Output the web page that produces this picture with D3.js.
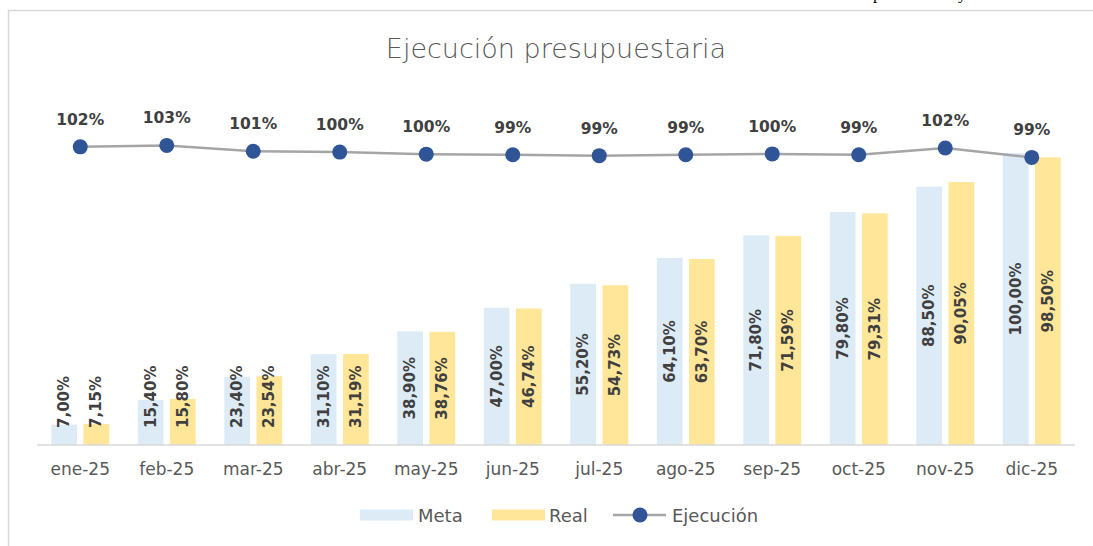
<!DOCTYPE html>
<html>
<head>
<meta charset="utf-8">
<script src="https://cdn.jsdelivr.net/npm/d3@7"></script>
<style>
  body { margin: 0; background: #fff; }
  svg { display: block; font-family: "DejaVu Sans", sans-serif; }
</style>
</head>
<body>
<script>
// datos
var meses = ["ene-25","feb-25","mar-25","abr-25","may-25","jun-25","jul-25","ago-25","sep-25","oct-25","nov-25","dic-25"];
var meta = [7.00, 15.40, 23.40, 31.10, 38.90, 47.00, 55.20, 64.10, 71.80, 79.80, 88.50, 100.00];
var real = [7.15, 15.80, 23.54, 31.19, 38.76, 46.74, 54.73, 63.70, 71.59, 79.31, 90.05, 98.50];
var ejecucion = [102.1, 102.6, 100.6, 100.3, 99.6, 99.4, 99.1, 99.4, 99.7, 99.4, 101.7, 98.5];
var series = ["Meta", "Real"];

var w = 1093, h = 546;
var colores = {Meta: "#DDEBF7", Real: "#FFE699"};

var svg = d3.select("body").append("svg")
    .attr("width", w)
    .attr("height", h)

// marco del grafico
svg.append("rect")
  .attr("x", 8.5).attr("y", 10.5)
  .attr("width", 1100).attr("height", 545)
  .attr("fill", "none")
  .attr("stroke", "#D9D9D9")
  .attr("stroke-width", 1.5)

// restos del texto de la pagina, cortados arriba
svg.append("text").attr("x", 873).attr("y", -1)
  .style("font-family", "Liberation Serif").style("font-size", "17px").text("p")
svg.append("text").attr("x", 958).attr("y", -1)
  .style("font-family", "Liberation Serif").style("font-size", "17px").text("y")

svg.append("text")
  .attr("x", 556).attr("y", 58)
  .attr("text-anchor", "middle")
  .attr("fill", "#595959")
  .style("font-size", "27px")
  .style("font-weight", "200")
  .text("Ejecución presupuestaria")

var x0 = d3.scaleBand().domain(meses).range([37, 1075]).paddingInner(0.33).paddingOuter(0.165);
var x1 = d3.scaleBand().domain(series).range([0, x0.bandwidth()]).paddingInner(0.2);
var y = d3.scaleLinear().domain([0, 100]).range([445, 153]);

var filas = meses.map(function(m, i) {
  return {mes: m, valores: [{s: "Meta", v: meta[i]}, {s: "Real", v: real[i]}]};
});

var grupos = svg.selectAll("g.mes").data(filas).enter().append("g")
  .attr("class", "mes")
  .attr("transform", function(d) { return "translate(" + x0(d.mes) + ",0)"; })

grupos.selectAll("rect").data(function(d) { return d.valores; }).enter().append("rect")
  .attr("x", function(d) { return x1(d.s); })
  .attr("width", x1.bandwidth())
  .attr("y", function(d) { return y(d.v); })
  .attr("height", function(d) { return y(0) - y(d.v); })
  .attr("fill", function(d) { return colores[d.s]; })

// etiquetas verticales, centradas en la barra pero sin bajar de 428
grupos.selectAll("text.lbl").data(function(d) { return d.valores; }).enter().append("text")
  .attr("class", "lbl")
  .attr("fill", "#404040")
  .style("font-size", "15px")
  .style("font-weight", "bold")
  .attr("dominant-baseline", "central")
  .text(function(d) { return d.v.toFixed(2).replace(".", ",") + "%"; })
  .each(function(d) {
    var len = this.getComputedTextLength();
    var cy = (y(d.v) + y(0)) / 2;
    var bottom = Math.min(cy + len / 2, 428);
    var cx = x1(d.s) + x1.bandwidth() / 2;
    d3.select(this).attr("transform", "translate(" + cx + "," + bottom + ") rotate(-90)");
  })

// eje x
svg.append("line")
  .attr("x1", 37).attr("x2", 1075)
  .attr("y1", 445).attr("y2", 445)
  .attr("stroke", "#D9D9D9").attr("stroke-width", 1.5)

svg.selectAll("text.mes").data(meses).enter().append("text")
  .attr("class", "mes")
  .attr("x", function(d) { return x0(d) + x0.bandwidth() / 2; })
  .attr("y", 475)
  .attr("text-anchor", "middle")
  .attr("fill", "#595959")
  .style("font-size", "17px")
  .text(function(d) { return d; })

// linea de ejecucion
var cxm = function(d, i) { return x0(meses[i]) + x0.bandwidth() / 2; };
var linea = d3.line().x(cxm).y(function(d) { return y(d); });

svg.append("path")
  .datum(ejecucion)
  .attr("d", linea)
  .attr("fill", "none")
  .attr("stroke", "#A5A5A5")
  .attr("stroke-width", 2.5)

svg.selectAll("circle.ej").data(ejecucion).enter().append("circle")
  .attr("class", "ej")
  .attr("cx", cxm)
  .attr("cy", function(d) { return y(d); })
  .attr("r", 7.5)
  .attr("fill", "#2F5597")

svg.selectAll("text.ej").data(ejecucion).enter().append("text")
  .attr("class", "ej")
  .attr("x", cxm)
  .attr("y", function(d) { return y(d) - 22; })
  .attr("text-anchor", "middle")
  .attr("fill", "#404040")
  .style("font-size", "15.5px")
  .style("font-weight", "bold")
  .text(function(d) { return Math.round(d) + "%"; })

// leyenda
var leyenda = [
  {nombre: "Meta", tipo: "barra", x: 360, tx: 418},
  {nombre: "Real", tipo: "barra", x: 492, tx: 549},
  {nombre: "Ejecución", tipo: "linea", x: 613, tx: 672}
];
var ly = 515;
leyenda.forEach(function(it) {
  if (it.tipo == "barra") {
    svg.append("rect").attr("x", it.x).attr("y", ly - 5.5)
      .attr("width", 53).attr("height", 11)
      .attr("fill", colores[it.nombre])
  } else {
    svg.append("line").attr("x1", it.x).attr("x2", it.x + 53)
      .attr("y1", ly).attr("y2", ly)
      .attr("stroke", "#A5A5A5").attr("stroke-width", 2.5)
    svg.append("circle").attr("cx", it.x + 27).attr("cy", ly).attr("r", 7.5)
      .attr("fill", "#2F5597")
  }
  svg.append("text").attr("x", it.tx).attr("y", ly + 6.5)
    .attr("fill", "#595959")
    .style("font-size", "18px")
    .text(it.nombre)
});
</script>
</body>
</html>
